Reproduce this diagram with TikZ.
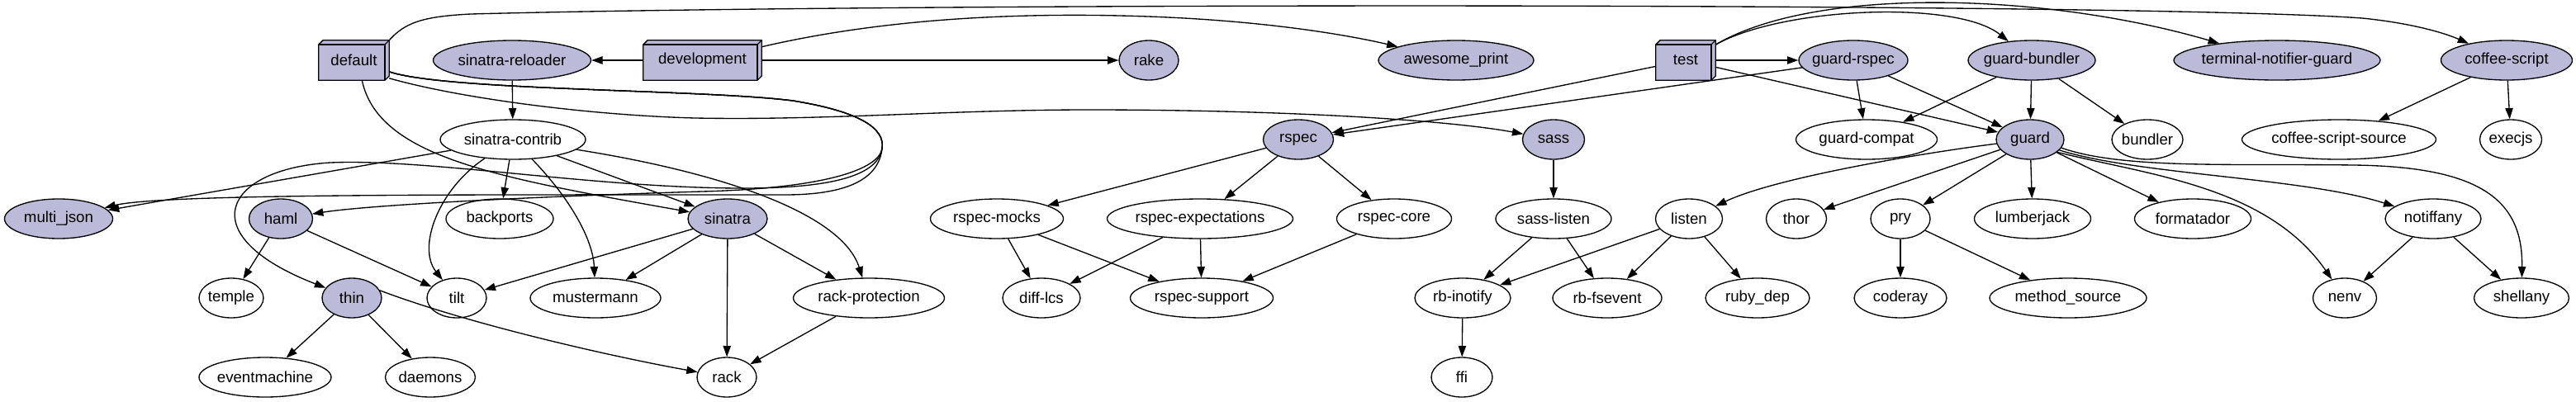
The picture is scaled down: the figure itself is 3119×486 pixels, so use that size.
\documentclass[tikz,border=0pt]{standalone}
\usepackage{fontspec}
\setmainfont{Liberation Sans}
\usetikzlibrary{shapes.geometric,arrows.meta,backgrounds}
\definecolor{gvfill}{RGB}{187,187,217}
\newcommand\gvl[1]{\makebox[0pt]{#1}}
\newcommand\gvboxdraw[1]{%
  \filldraw[fill=gvfill, line width=1pt]
    ([yshift=-4pt]#1.north west) -- ([xshift=4pt]#1.north west) -- (#1.north east)
    -- ([yshift=4pt]#1.south east) -- ([xshift=-4pt]#1.south east) -- (#1.south west) -- cycle;
  \draw[line width=1pt] ([yshift=-4pt]#1.north west) -- ([xshift=-4pt,yshift=-4pt]#1.north east) -- ([xshift=-4pt]#1.south east);
  \draw[line width=1pt] ([xshift=-4pt,yshift=-4pt]#1.north east) -- (#1.north east);}
\tikzset{
  gvnode/.style={ellipse, draw, line width=1pt, inner sep=0pt, minimum height=36pt,
    minimum width={#1*0.75pt}, fill=white, font=\fontsize{14}{16}\selectfont},
  gvfilled/.style={gvnode=#1, fill=gvfill},
  gvbox/.style={rectangle, inner sep=0pt, minimum height=36pt, minimum width={#1*0.75pt},
    font=\fontsize{14}{16}\selectfont},
  gvedge/.style={line width=1pt, -{Triangle[length=10pt,width=7pt]}}
}
\begin{document}
\begin{tikzpicture}[x=0.75pt,y=-0.75pt]
\useasboundingbox (0,0) rectangle (3119,486);
% row 1
\node[gvbox=85] (default) at (428.5,73) {default};
\node[gvfilled=191] (srel) at (620,73) {\gvl{sinatra-reloader}};
\node[gvbox=143] (dev) at (850.5,73) {development};
\node[gvfilled=72] (rake) at (1391,73) {\gvl{rake}};
\node[gvfilled=188] (aprint) at (1763,73) {\gvl{awesome\_print}};
\node[gvbox=72] (test) at (2041,73) {test};
\node[gvfilled=132] (grspec) at (2244,73) {\gvl{guard-rspec}};
\node[gvfilled=154] (gbundler) at (2460,73) {\gvl{guard-bundler}};
\node[gvfilled=250] (tng) at (2757,73) {\gvl{terminal-notifier-guard}};
\node[gvfilled=159] (coffee) at (3035,73) {\gvl{coffee-script}};
% row 2
\node[gvnode=176] (scontrib) at (621,169) {\gvl{sinatra-contrib}};
\node[gvfilled=85] (rspec) at (1572,169) {\gvl{rspec}};
\node[gvfilled=75] (sass) at (1881,169) {\gvl{sass}};
\node[gvnode=171] (gcompat) at (2260,169) {\gvl{guard-compat}};
\node[gvfilled=82] (guard) at (2458,169) {\gvl{guard}};
\node[gvnode=86] (bundler) at (2600,169) {\gvl{bundler}};
\node[gvnode=235] (css) at (2832,169) {\gvl{coffee-script-source}};
\node[gvnode=75] (execjs) at (3040,169) {\gvl{execjs}};
% row 3
\node[gvfilled=131] (mjson) at (71,265) {\gvl{multi\_json}};
\node[gvfilled=77] (haml) at (340,265) {\gvl{haml}};
\node[gvnode=130] (backports) at (605,265) {\gvl{backports}};
\node[gvfilled=96] (sinatra) at (881,265) {\gvl{sinatra}};
\node[gvnode=161] (rmocks) at (1207,265) {\gvl{rspec-mocks}};
\node[gvnode=225] (rexp) at (1453,265) {\gvl{rspec-expectations}};
\node[gvnode=139] (rcore) at (1688,265) {\gvl{rspec-core}};
\node[gvnode=140] (slisten) at (1881,265) {\gvl{sass-listen}};
\node[gvnode=81] (listen) at (2045,265) {\gvl{listen}};
\node[gvnode=73] (thor) at (2175,265) {\gvl{thor}};
\node[gvnode=72] (pry) at (2301,265) {\gvl{pry}};
\node[gvnode=141] (lumber) at (2461,265) {\gvl{lumberjack}};
\node[gvnode=141] (format) at (2655,265) {\gvl{formatador}};
\node[gvnode=116] (notif) at (2946,265) {\gvl{notiffany}};
% row 4
\node[gvnode=78] (temple) at (280,361) {\gvl{temple}};
\node[gvfilled=72] (thin) at (426,361) {\gvl{thin}};
\node[gvnode=72] (tilt) at (553,361) {\gvl{tilt}};
\node[gvnode=158] (muster) at (721,361) {\gvl{mustermann}};
\node[gvnode=183] (rprot) at (1052,361) {\gvl{rack-protection}};
\node[gvnode=94] (difflcs) at (1261,361) {\gvl{diff-lcs}};
\node[gvnode=173] (rsupport) at (1455,361) {\gvl{rspec-support}};
\node[gvnode=116] (rbino) at (1771,361) {\gvl{rb-inotify}};
\node[gvnode=132] (rbfs) at (1946,361) {\gvl{rb-fsevent}};
\node[gvnode=126] (rubydep) at (2128,361) {\gvl{ruby\_dep}};
\node[gvnode=112] (coderay) at (2301,361) {\gvl{coderay}};
\node[gvnode=190] (msource) at (2504,361) {\gvl{method\_source}};
\node[gvnode=77] (nenv) at (2839,361) {\gvl{nenv}};
\node[gvnode=115] (shellany) at (3053,361) {\gvl{shellany}};
% row 5
\node[gvnode=160] (emachine) at (321,457) {\gvl{eventmachine}};
\node[gvnode=109] (daemons) at (521,457) {\gvl{daemons}};
\node[gvnode=72] (rack) at (880,457) {\gvl{rack}};
\node[gvnode=74] (ffi) at (1770,457) {\gvl{ffi}};
% white page and 3d boxes
\begin{scope}[on background layer]
\fill[white] (0,0) rectangle (3119,486);
\gvboxdraw{default}
\gvboxdraw{dev}
\gvboxdraw{test}
\end{scope}
% edges
\begin{scope}[gvedge]
% default
\draw (default.north east) .. controls (490,28) and (510,20) .. (570,17)
  .. controls (1100,3) and (2600,3) .. (2860,22) .. controls (2920,28) and (2960,40) .. (coffee);
\draw (default.-27) .. controls (560,120) and (720,140) .. (842,143)
  .. controls (1000,146) and (1150,133) .. (1318,133) .. controls (1550,133) and (1750,145) .. (sass);
\draw (default.-68) .. controls (458,190) and (600,215) .. (sinatra);
\draw (default.-18) .. controls (540,110) and (850,108) .. (960,122) .. controls (1040,135) and (1072,155) .. (1068,180)
  .. controls (1064,215) and (1030,236) .. (950,236) .. controls (600,236) and (200,234) .. (mjson);
\draw (default.-18) .. controls (540,110) and (850,108) .. (960,122) .. controls (1040,135) and (1072,155) .. (1068,180)
  .. controls (1064,205) and (1000,228) .. (850,232) .. controls (650,238) and (450,248) .. (haml);
\draw (default.-18) .. controls (540,110) and (850,108) .. (960,122) .. controls (1040,135) and (1072,155) .. (1068,180)
  .. controls (1063,212) and (1010,228) .. (900,228) .. controls (720,228) and (520,192) .. (400,197)
  .. controls (270,205) and (230,285) .. (thin);
% development
\draw (dev) -- (srel);
\draw (dev) -- (rake);
\draw ([yshift=-6pt]dev.north east) .. controls (1080,20) and (1250,15) .. (1390,20)
  .. controls (1530,25) and (1630,42) .. (aprint);
% sinatra family
\draw (srel) -- (scontrib);
\draw (scontrib) -- (backports);
\draw (scontrib) -- (sinatra);
\draw (scontrib) -- (mjson);
\draw (scontrib) .. controls (530,230) and (505,300) .. (tilt);
\draw (scontrib) .. controls (690,240) and (718,290) .. (muster);
\draw (scontrib) .. controls (880,210) and (1020,260) .. (rprot);
\draw (haml) -- (temple);
\draw (haml) -- (tilt);
\draw (sinatra) -- (tilt);
\draw (sinatra) -- (muster);
\draw (sinatra) -- (rack);
\draw (sinatra) -- (rprot);
\draw (rprot) -- (rack);
\draw (thin) -- (emachine);
\draw (thin) -- (daemons);
\draw (thin.15) .. controls (560,390) and (730,430) .. (rack);
% test
\draw (test) -- (grspec);
\draw (test) -- (guard);
\draw (test) -- (rspec);
\draw ([yshift=-4pt]test.north east) .. controls (2160,8) and (2370,0) .. (gbundler);
\draw ([yshift=-4pt]test.north east) .. controls (2200,-18) and (2480,-8) .. (tng);
\draw (grspec) -- (rspec);
\draw (grspec) -- (gcompat);
\draw (grspec) -- (guard);
\draw (gbundler) -- (gcompat);
\draw (gbundler) -- (guard);
\draw (gbundler) -- (bundler);
\draw (coffee) -- (css);
\draw (coffee) -- (execjs);
% rspec
\draw (rspec) -- (rmocks);
\draw (rspec) -- (rexp);
\draw (rspec) -- (rcore);
\draw (rmocks) -- (difflcs);
\draw (rmocks) -- (rsupport);
\draw (rexp) -- (difflcs);
\draw (rexp) -- (rsupport);
\draw (rcore) -- (rsupport);
% sass / listen
\draw (sass) -- (slisten);
\draw (slisten) -- (rbino);
\draw (slisten) -- (rbfs);
\draw (listen) -- (rbino);
\draw (listen) -- (rbfs);
\draw (listen) -- (rubydep);
\draw (rbino) -- (ffi);
% guard
\draw (guard) .. controls (2330,185) and (2150,215) .. (listen);
\draw (guard) -- (thor);
\draw (guard) -- (pry);
\draw (guard) -- (lumber);
\draw (guard) -- (format);
\draw (guard.-25) .. controls (2600,212) and (2745,225) .. (nenv);
\draw (guard.-20) .. controls (2590,212) and (2790,215) .. (notif);
\draw (guard.-15) .. controls (2570,205) and (2700,198) .. (2850,200)
  .. controls (3000,202) and (3055,240) .. (shellany);
\draw (pry) -- (coderay);
\draw (pry) -- (msource);
\draw (notif) -- (nenv);
\draw (notif) -- (shellany);
\end{scope}
\end{tikzpicture}
\end{document}
